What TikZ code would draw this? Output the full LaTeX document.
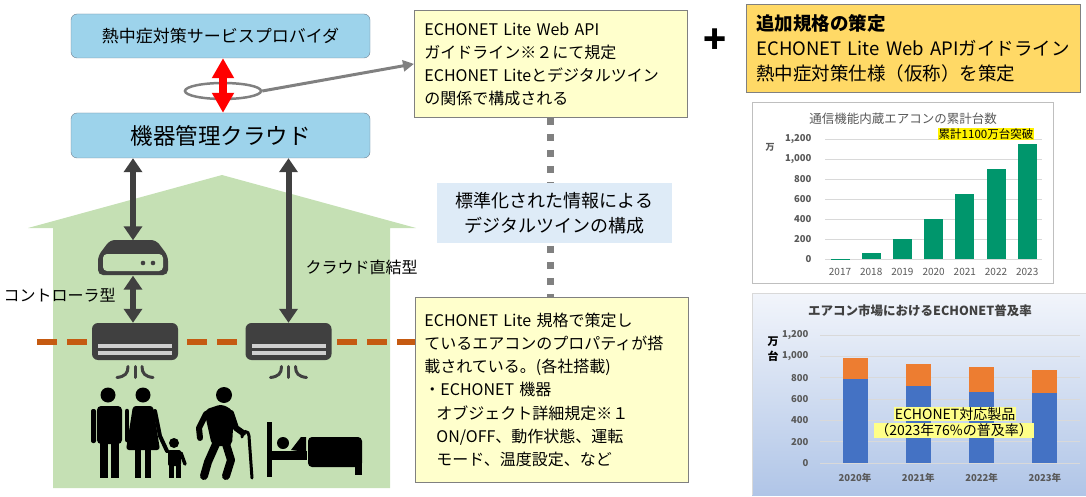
\documentclass[tikz,border=0pt]{standalone}
\usepackage{fontspec}
\setmainfont{Noto Sans CJK JP}
\usetikzlibrary{arrows.meta,calc,shapes.geometric,positioning}

\definecolor{provblue}{RGB}{157,211,235}
\definecolor{boxedge}{RGB}{112,128,144}
\definecolor{noteyellow}{RGB}{255,255,204}
\definecolor{specgold}{RGB}{255,217,102}
\definecolor{twinblue}{RGB}{222,235,247}
\definecolor{icongray}{RGB}{64,64,64}
\definecolor{floororange}{RGB}{197,90,17}
\definecolor{housegreen}{RGB}{197,224,180}
\definecolor{barteal}{RGB}{0,150,108}
\definecolor{barblue}{RGB}{68,114,196}
\definecolor{barorange}{RGB}{237,125,49}
\definecolor{axisgray}{RGB}{89,89,89}
\definecolor{gridgray}{RGB}{217,217,217}
\definecolor{popyellow}{RGB}{255,255,136}

\newcommand{\jpsize}[2]{\fontsize{#1}{#2}\selectfont}

\tikzset{
  svcbox/.style={draw=boxedge, fill=provblue, rounded corners=6pt, minimum width=299pt, inner sep=0pt},
  notebox/.style={draw=gray, fill=noteyellow, line width=0.8pt, align=left, inner xsep=10pt, anchor=north west},
  darkarrow/.style={draw=icongray, line width=6pt, {Triangle[width=18pt,length=14pt]}-{Triangle[width=18pt,length=14pt]}},
  apiarrow/.style={draw=red, line width=8pt, {Triangle[width=21pt,length=20pt]}-{Triangle[width=21pt,length=20pt]}},
  notelink/.style={draw=gray, line width=3pt, -{Triangle[width=11pt,length=11pt]}},
  twinlink/.style={draw=gray, line width=7pt, dash pattern=on 7pt off 9pt},
  floorline/.style={draw=floororange, line width=6pt, dash pattern=on 20pt off 10pt},
  acbody/.style={fill=icongray, rounded corners=6pt, minimum width=86pt, minimum height=37pt, inner sep=0pt},
  sidelabel/.style={font=\jpsize{16}{18}, anchor=west},
  axislabel/.style={font=\jpsize{9.5}{10}\bfseries, text=axisgray, anchor=east},
  yearlabel/.style={font=\jpsize{10}{11}, text=axisgray},
  popfill/.style={fill=popyellow, inner xsep=1pt, inner ysep=0.5pt, font=\jpsize{14}{15}}
}

\begin{document}
\begin{tikzpicture}[x=1pt,y=-1pt]
  \useasboundingbox (0,0) rectangle (1086,497);

  \fill[housegreen] (222,175) -- (416,228) -- (390,228) -- (390,488) -- (53,488) -- (53,228) -- (28,228) -- cycle;

  \node[svcbox, minimum height=44pt, font=\jpsize{17}{20}] (provider) at (220.5,36) {熱中症対策サービスプロバイダ};
  \node[svcbox, minimum height=45pt, font=\jpsize{22.5}{25}] (cloud) at (220.5,135.5) {機器管理クラウド};

  \node[notebox, minimum width=273pt, minimum height=107pt, text width=253pt, font=\jpsize{16}{23}] (apinote) at (414,10)
    {ECHONET Lite Web API\\ガイドライン※２にて規定\\ECHONET Liteとデジタルツイン\\の関係で構成される};
  \node[notebox, fill=specgold, minimum width=334pt, minimum height=88pt, text width=314pt, inner xsep=10pt, font=\jpsize{18.5}{25}] (addspec) at (746,4)
    {{\bfseries 追加規格の策定}\\\mbox{ECHONET Lite Web APIガイドライン}\\熱中症対策仕様（仮称）を策定};
  \node[font=\jpsize{38}{38}\bfseries] (plus) at (715,41) {+};

  \node[notebox, minimum width=273pt, minimum height=185pt, text width=255pt, inner xsep=9pt, font=\jpsize{16}{23.3}] (propnote) at (415,297)
    {ECHONET Lite 規格で策定し\\ているエアコンのプロパティが搭\\載されている。(各社搭載)\\・ECHONET 機器\\\hspace*{0.75em}オブジェクト詳細規定※１\\\hspace*{0.75em}ON/OFF、動作状態、運転\\\hspace*{0.75em}モード、温度設定、など};

  \draw[twinlink] (apinote.south) -- (apinote.south |- propnote.north);
  \node[fill=twinblue, minimum width=235pt, minimum height=60pt, align=center, font=\jpsize{18}{25}] (twin) at (554.5,213)
    {標準化された情報による\\デジタルツインの構成};

  \node[ellipse, draw=gray, line width=2.5pt, minimum width=76pt, minimum height=16pt, inner sep=0pt] (apilink) at (223,91) {};
  \draw[apiarrow] (provider.south -| apilink) -- (cloud.north -| apilink);
  \draw[notelink] (apilink.east) -- (apinote.west);

  \coordinate (floorstart) at (37,342);
  \draw[floorline] (floorstart) -- (floorstart -| propnote.west);

  \node[minimum width=70pt, minimum height=35pt, inner sep=0pt] (router) at (133,258) {};
  \begin{scope}[shift={(router.center)}]
    \fill[icongray, rounded corners=5pt] (-35,17) -- (-35,-2) -- (-23,-18) -- (23,-18) -- (35,-2) -- (35,17) -- cycle;
    \fill[housegreen, rounded corners=4pt] (-30,-4) rectangle (30,13);
    \fill[icongray] (10,5) circle[radius=2.3] (20,5) circle[radius=2.3];
  \end{scope}

  \node[acbody] (acL) at (135,341.5) {};
  \node[acbody] (acR) at (288.5,341.5) {};
  \foreach \ac in {acL,acR}{
    \begin{scope}[shift={(\ac.center)}]
      \fill[white, opacity=0.75] (-37,2) rectangle (37,6);
      \fill[white, opacity=0.75] (-37,9) rectangle (37,13);
      \draw[icongray, line width=3pt, line cap=round] (-7,25) .. controls (-7,32) and (-10,35) .. (-18,36);
      \draw[icongray, line width=3pt, line cap=round] (0,25) -- (0,36);
      \draw[icongray, line width=3pt, line cap=round] (7,25) .. controls (7,32) and (10,35) .. (18,36);
    \end{scope}
  }

  \draw[darkarrow] (cloud.south -| router.north) -- (router.north);
  \draw[darkarrow] (router.south) -- (router.south |- acL.north);
  \draw[darkarrow] (cloud.south -| acR.north) -- (acR.north);

  \node[sidelabel] (ctrltype) at (0,295) {コントローラ型};
  \node[sidelabel] (directtype) at (302,267) {クラウド直結型};

  \begin{scope}[black]
    \fill (108,395) circle[radius=7.5];
    \fill[rounded corners=4pt] (97,406) rectangle (122,444);
    \fill[rounded corners=2pt] (91,409) rectangle (96,443);
    \fill (100,442) rectangle (108,478);
    \fill (111,442) rectangle (119,478);
    \fill (143,395) circle[radius=7.5];
    \fill[rounded corners=3pt] (133,406) -- (153,406) -- (160,450) -- (126,450) -- cycle;
    \draw[line width=4.5pt, line cap=round, line join=round] (127,411) -- (127,440);
    \draw[line width=4pt, line cap=round, line join=round] (155,411) -- (160,436) -- (167,451);
    \fill (135,449) rectangle (141,478);
    \fill (145,449) rectangle (151,478);
    \fill (174,443) circle[radius=5];
    \fill[rounded corners=2pt] (168,450) rectangle (181,466);
    \fill (169,465) rectangle (174,478);
    \fill (176,465) rectangle (181,478);
    \draw[line width=3.5pt, line cap=round] (181,453) -- (185,464);
    \fill (224,395) circle[radius=8];
    \fill[rounded corners=5pt] (204,410) -- (222,404) -- (234,411) -- (232,446) -- (212,446) -- cycle;
    \draw[line width=6pt, line cap=round, line join=round] (206,414) -- (199,428) -- (200,438);
    \draw[line width=6pt, line cap=round, line join=round] (231,413) -- (236,428) -- (243,433);
    \draw[line width=8pt, line cap=round, line join=round] (216,444) -- (208,462) -- (204,476);
    \draw[line width=8pt, line cap=round, line join=round] (226,444) -- (231,460) -- (226,476);
    \draw[line width=3pt, line cap=round] (242,437) .. controls (242,430) and (249,430) .. (249,436) -- (252,478);
    \fill (267,422) rectangle (272,477);
    \fill (283,443) circle[radius=6];
    \fill (291,450) -- (301,437) -- (306,437) -- (306,452) -- cycle;
    \fill (272,451) rectangle (307,460);
    \fill[rounded corners=4pt] (308,437) rectangle (362,467);
    \fill (355,462) rectangle (362,475);
  \end{scope}

  \draw[gray!50, fill=white] (752,102) rectangle (1053,283);
  \foreach \v/\lbl in {0/0,200/200,400/400,600/600,800/800,1000/{1,000},1200/{1,200}}{
    \draw[gridgray, line width=0.8pt] (825,{259-\v/10}) -- (1042,{259-\v/10});
    \node[axislabel] at (815,{259-\v/10}) {\lbl};
  }
  \foreach \yr/\val [count=\i from 0] in {2017/5,2018/60,2019/200,2020/400,2021/650,2022/900,2023/1150}{
    \fill[barteal] ({840+31.2*\i-9.5},259) rectangle ({840+31.2*\i+9.5},{259-\val/10});
    \node[yearlabel] at ({840+31.2*\i},272) {\yr};
  }
  \node[font=\jpsize{12.5}{14}, text=axisgray] (counttitle) at (903,119) {通信機能内蔵エアコンの累計台数};
  \node[fill=yellow, inner sep=1pt, font=\jpsize{11.5}{12}] (milestone) at (986,134) {累計1100万台突破};
  \node[font=\jpsize{9}{9}\bfseries, text=axisgray] (countunit) at (770,147) {万};

  \shade[top color={rgb,255:red,242;green,245;blue,251}, bottom color={rgb,255:red,176;green,197;blue,231}] (752,293) rectangle (1086,495);
  \draw[gridgray] (752,495) -- (752,293) -- (1086,293);
  \foreach \v/\lbl in {0/0,200/200,400/400,600/600,800/800,1000/{1,000},1200/{1,200}}{
    \draw[gridgray, line width=0.8pt] (820,{463-\v*0.10667}) -- (1080,{463-\v*0.10667});
    \node[axislabel] at (812,{463-\v*0.10667}) {\lbl};
  }
  \foreach \yr/\tot/\eco [count=\i from 0] in {2020/980/790,2021/930/720,2022/900/670,2023/870/660}{
    \fill[barblue] ({855+63.3*\i-12.5},463) rectangle ({855+63.3*\i+12.5},{463-\eco*0.10667});
    \fill[barorange] ({855+63.3*\i-12.5},{463-\eco*0.10667}) rectangle ({855+63.3*\i+12.5},{463-\tot*0.10667});
    \node[yearlabel, font=\jpsize{9.5}{10}\bfseries] at ({855+63.3*\i},478) {\yr 年};
  }
  \node[font=\jpsize{12.5}{14}\bfseries, text=icongray] (sharetitle) at (920,311) {エアコン市場におけるECHONET普及率};
  \node[font=\jpsize{11}{11}\bfseries] (shareunitA) at (773,342) {万};
  \node[font=\jpsize{11}{11}\bfseries] (shareunitB) at (773,356) {台};
  \node[popfill] (poplabelA) at (955,414) {ECHONET対応製品};
  \node[popfill] (poplabelB) at (954,430.5) {（2023年76\%の普及率）};
\end{tikzpicture}
\end{document}
